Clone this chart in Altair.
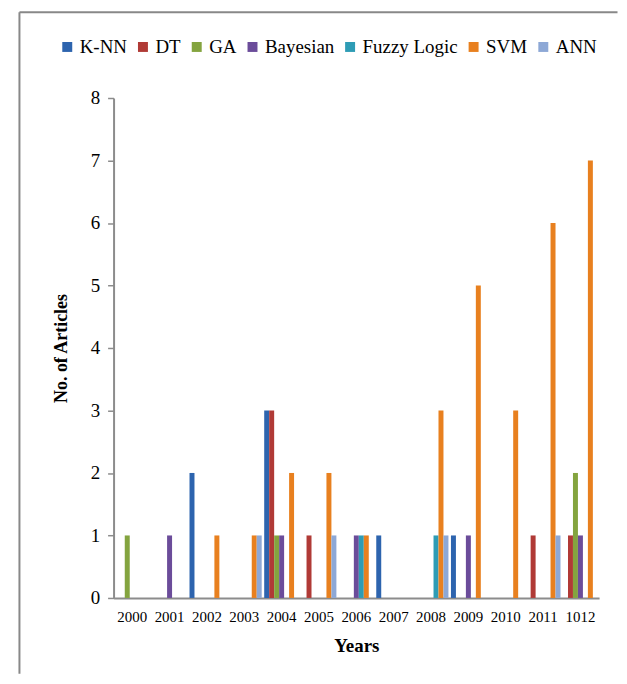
import altair as alt
import pandas as pd

years = ["2000", "2001", "2002", "2003", "2004", "2005", "2006",
         "2007", "2008", "2009", "2010", "2011", "1012"]
series = ["K-NN", "DT", "GA", "Bayesian", "Fuzzy Logic", "SVM", "ANN"]
colors = ["#2D64AE", "#B03A36", "#84A43F", "#6B4C9A", "#2E9CB5", "#E8801F", "#8DA8D6"]

knn   = [0, 0, 2, 0, 3, 0, 0, 1, 0, 1, 0, 0, 0]
dt    = [0, 0, 0, 0, 3, 1, 0, 0, 0, 0, 0, 1, 1]
ga    = [1, 0, 0, 0, 1, 0, 0, 0, 0, 0, 0, 0, 2]
bayes = [0, 1, 0, 0, 1, 0, 1, 0, 0, 1, 0, 0, 1]
fuzzy = [0, 0, 0, 0, 0, 0, 1, 0, 1, 0, 0, 0, 0]
svm   = [0, 0, 1, 1, 2, 2, 1, 0, 3, 5, 3, 6, 7]
ann   = [0, 0, 0, 1, 0, 1, 0, 0, 1, 0, 0, 1, 0]

values = [knn, dt, ga, bayes, fuzzy, svm, ann]
rows = []
for s, vals in zip(series, values):
    for y, v in zip(years, vals):
        rows.append({"Year": y, "Method": s, "Articles": v})
df = pd.DataFrame(rows)

FONT = "Liberation Serif"
W, H = 487.5, 502

bars = alt.Chart(df).mark_bar().encode(
    x=alt.X("Year:N", sort=years,
            scale=alt.Scale(paddingInner=0.067, paddingOuter=0.033),
            axis=alt.Axis(title="Years", labelAngle=0, ticks=False,
                          labelFont=FONT, labelFontSize=15, labelColor="#000",
                          labelPadding=12, titleFont=FONT, titleFontSize=19,
                          titleFontWeight="bold", titleColor="#000", titlePadding=12,
                          domainColor="#8c8c8c", domainWidth=2)),
    xOffset=alt.XOffset("Method:N", sort=series,
                        scale=alt.Scale(domain=series, paddingInner=0, paddingOuter=0)),
    y=alt.Y("Articles:Q",
            scale=alt.Scale(domain=[0, 8], nice=False),
            axis=alt.Axis(title="No. of Articles", values=list(range(0, 9)),
                          grid=False, tickSize=6, tickColor="#8c8c8c", tickWidth=1.5,
                          domainColor="#8c8c8c", domainWidth=2,
                          labelFont=FONT, labelFontSize=19, labelColor="#000",
                          labelPadding=8, titleFont=FONT, titleFontSize=18,
                          titleFontWeight="bold", titleColor="#000", titlePadding=20)),
    color=alt.Color("Method:N", sort=series,
                    scale=alt.Scale(domain=series, range=colors),
                    legend=alt.Legend(title=None, orient="none", direction="horizontal",
                                      legendX=-56, legendY=-61,
                                      symbolType="square", symbolSize=100,
                                      symbolStrokeWidth=0, labelFont=FONT,
                                      labelFontSize=19, labelColor="#000",
                                      labelOffset=3, columnPadding=6)),
)

# decorative frame of the chart (left and top edges only, as in the reference)
frame = pd.DataFrame({"k": [0]})
border_left = alt.Chart(frame).mark_rule(color="#888888", strokeWidth=2).encode(
    x=alt.value(-94.5), y=alt.value(-86), y2=alt.value(578))
border_top = alt.Chart(frame).mark_rule(color="#888888", strokeWidth=2).encode(
    x=alt.value(-94.5), x2=alt.value(506), y=alt.value(-86))

chart = alt.layer(bars, border_left, border_top).properties(
    width=W, height=H,
    padding={"left": 10, "top": 2, "right": 0, "bottom": 0},
).configure(
    background="white", font=FONT,
).configure_view(strokeWidth=0, strokeOpacity=0)

chart.save("out.html", embed_options={"renderer": "svg", "actions": False})
